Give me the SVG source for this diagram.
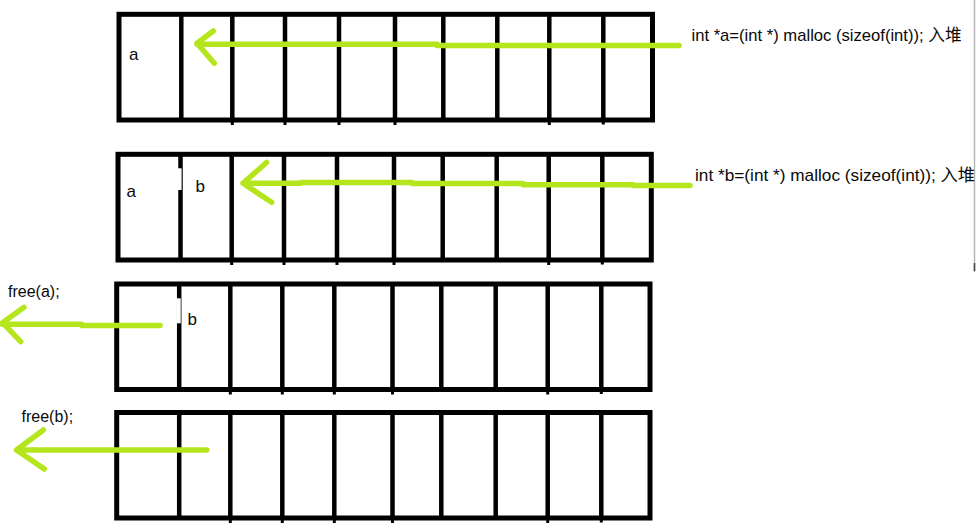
<svg xmlns="http://www.w3.org/2000/svg" width="976" height="524" viewBox="0 0 976 524">
<style>
.box{fill:none;stroke:#000;stroke-width:5}
.div{stroke:#000;stroke-width:4.5}
.nub{stroke:#000;stroke-width:3}
.arr{fill:none;stroke:#b5e61d;stroke-width:5.5;stroke-linecap:round;stroke-linejoin:round}
.t{font-family:"Liberation Sans","Noto Sans CJK SC",sans-serif;font-size:16px;fill:#0a0a0a}
.tl{font-size:17px}
.mask{fill:#fff}
</style>
<rect width="976" height="524" fill="#fff"/>
<line x1="974.5" y1="0" x2="974.5" y2="272" stroke="#b8b8b8" stroke-width="1.5"/>
<line x1="974.5" y1="263" x2="974.5" y2="271" stroke="#444" stroke-width="1.5"/>

<g id="row1">
<rect class="box" x="119" y="14.3" width="533.5" height="105.7"/>
<path class="div" d="M181.3 14.3V120M232.3 14.3V120M285 14.3V120M339 14.3V120M395 14.3V120M443.3 14.3V120M497.3 14.3V120M549.3 14.3V120M603.3 14.3V120"/>
<path class="nub" d="M232.3 120V125M285 120V125M339 120V125M395 120V125M549.3 120V125M603.3 120V124.5"/>
<text class="t tl" x="129" y="60">a</text>
</g>

<g id="row2">
<rect class="box" x="118" y="154.3" width="533.3" height="105.7"/>
<path class="div" d="M180.5 154.3V260M231.7 154.3V260M284 154.3V260M337 154.3V260M394 154.3V260M442.7 154.3V260M496.7 154.3V260M548.7 154.3V260M602.3 154.3V260"/>
<path class="nub" d="M231.7 260V265M284 260V265M337 260V265M394 260V265M548.7 260V265M602.3 260V264.5"/>
<rect class="mask" x="178" y="168.3" width="3.6" height="21.7"/>
<text class="t tl" x="126.5" y="197">a</text>
<text class="t tl" x="195.5" y="192">b</text>
</g>

<g id="row3">
<rect class="box" x="116.7" y="284" width="533.3" height="105.5"/>
<path class="div" d="M179.2 284V389.5M230.3 284V389.5M282.3 284V389.5M334.3 284V389.5M392.5 284V389.5M441.3 284V389.5M495.7 284V389.5M547.7 284V389.5M601.3 284V389.5"/>
<path class="nub" d="M230.3 389.5V394.5M282.3 389.5V394.5M334.3 389.5V394.5M392.5 389.5V394.5M547.7 389.5V394.5M601.3 389.5V394"/>
<rect class="mask" x="176.7" y="298.3" width="4" height="25"/>
<text class="t tl" x="187.5" y="325">b</text>
</g>

<g id="row4">
<rect class="box" x="116.7" y="412.5" width="533.3" height="105.5"/>
<path class="div" d="M179.2 412.5V518M230.3 412.5V518M282.3 412.5V518M334.3 412.5V518M392.5 412.5V518M441.3 412.5V518M495.7 412.5V518M547.7 412.5V518M601.3 412.5V518"/>
<path class="nub" d="M230.3 518V523M282.3 518V523M334.3 518V523M392.5 518V523M547.7 518V523M601.3 518V522.5"/>
</g>

<g id="labels">
<text class="t tl" x="691.5" y="41" textLength="270" lengthAdjust="spacingAndGlyphs">int *a=(int *) malloc (sizeof(int)); 入堆</text>
<text class="t tl" x="695" y="181" textLength="280" lengthAdjust="spacingAndGlyphs">int *b=(int *) malloc (sizeof(int)); 入堆</text>
<text class="t" x="8" y="297">free(a);</text>
<text class="t" x="21.5" y="422">free(b);</text>
</g>

<g id="connectors">
<path class="arr" d="M679 45.5H437V44.3H197M213.3 31L197 43.2L214.3 63.3"/>
<path class="arr" d="M690 185.4H633V184.7H523V183.5H412V182.6H301V183.3H243M266.7 162.3L243 183.3L271.7 202.3"/>
<path class="arr" d="M160 325.5H81.7V324.3H2.5M24 307.3L2.5 322.7L20.7 341.7"/>
<path class="arr" d="M206.7 450H16.5M43.3 430L16.5 450L44.3 469"/>
</g>
</svg>
